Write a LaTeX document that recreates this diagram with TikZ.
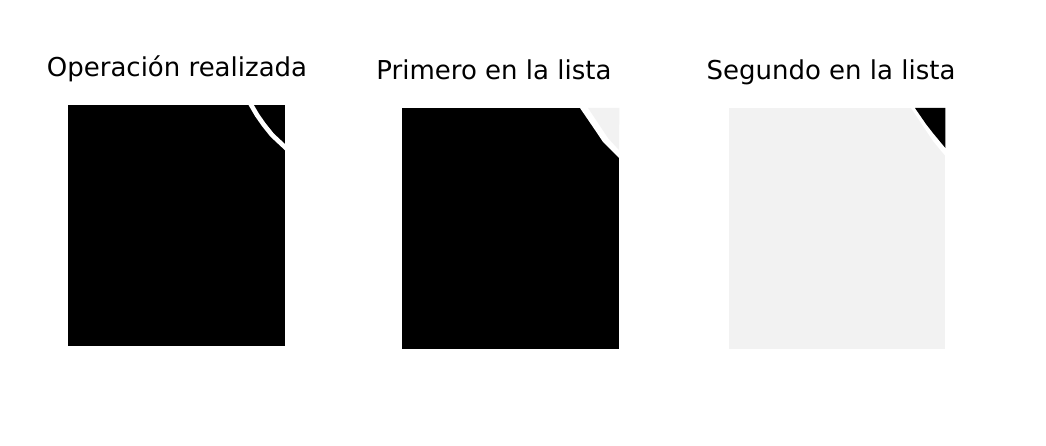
\documentclass[tikz,border=0pt]{standalone}
\usepackage{fontspec}
\setmainfont{DejaVu Sans}
\usepackage{xcolor}
\usepackage{tikz}
\usetikzlibrary{positioning}

\definecolor{fondo}{HTML}{F2F2F2}

\begin{document}
\begin{tikzpicture}[x=1pt,y=-1pt,
					titulo/.style={
						anchor=base, inner sep=0pt,
						font=\fontsize{26}{30}\selectfont
					},
					panel/.style={
						anchor=north west, inner sep=0pt, draw=none,
						minimum width=217pt, minimum height=241pt
					},
					borde/.style={
						white, line width=4.6pt, line join=round
					}
					]
					\useasboundingbox (0,0) rectangle (1046,446);
					
					% Paneles: operacion, primero, segundo
					\node[panel, fill=black] (op) at (68,105) {};
					\node[panel, fill=black] (pri) at (402,108) {};
					\node[panel, fill=fondo, minimum width=216pt] (seg) at (729,108) {};
					
					% Titulos
					\node[titulo] (t1) at (177,77) {Operación realizada};
					\node[titulo] (t2) at (494,80) {Primero en la lista};
					\node[titulo] (t3) at (831,80) {Segundo en la lista};
					
					% Esquina del primer panel
					\begin{scope}
						\clip (op.north west) rectangle (op.south east);
						\draw[borde] (250,103) -- (257,115) -- (264,125) -- (272,135) -- (287,149);
					\end{scope}
					
					% Esquina del segundo panel
					\fill[white] (580,108) -- (595,130) -- (603,142) -- (619,158) -- (pri.north east) -- cycle;
					\fill[fondo] (588,108) -- (600,126) -- (608,138) -- (619,150) -- (pri.north east) -- cycle;
					
					% Esquina del tercer panel
					\fill[white] (911,108) -- (925,129) -- (933,141) -- (seg.east |- 0,156) -- (seg.north east) -- cycle;
					\fill[black] (915,108) -- (926,124) -- (933,133) -- (seg.east |- 0,148) -- (seg.north east) -- cycle;
				\end{tikzpicture}
\end{document}
